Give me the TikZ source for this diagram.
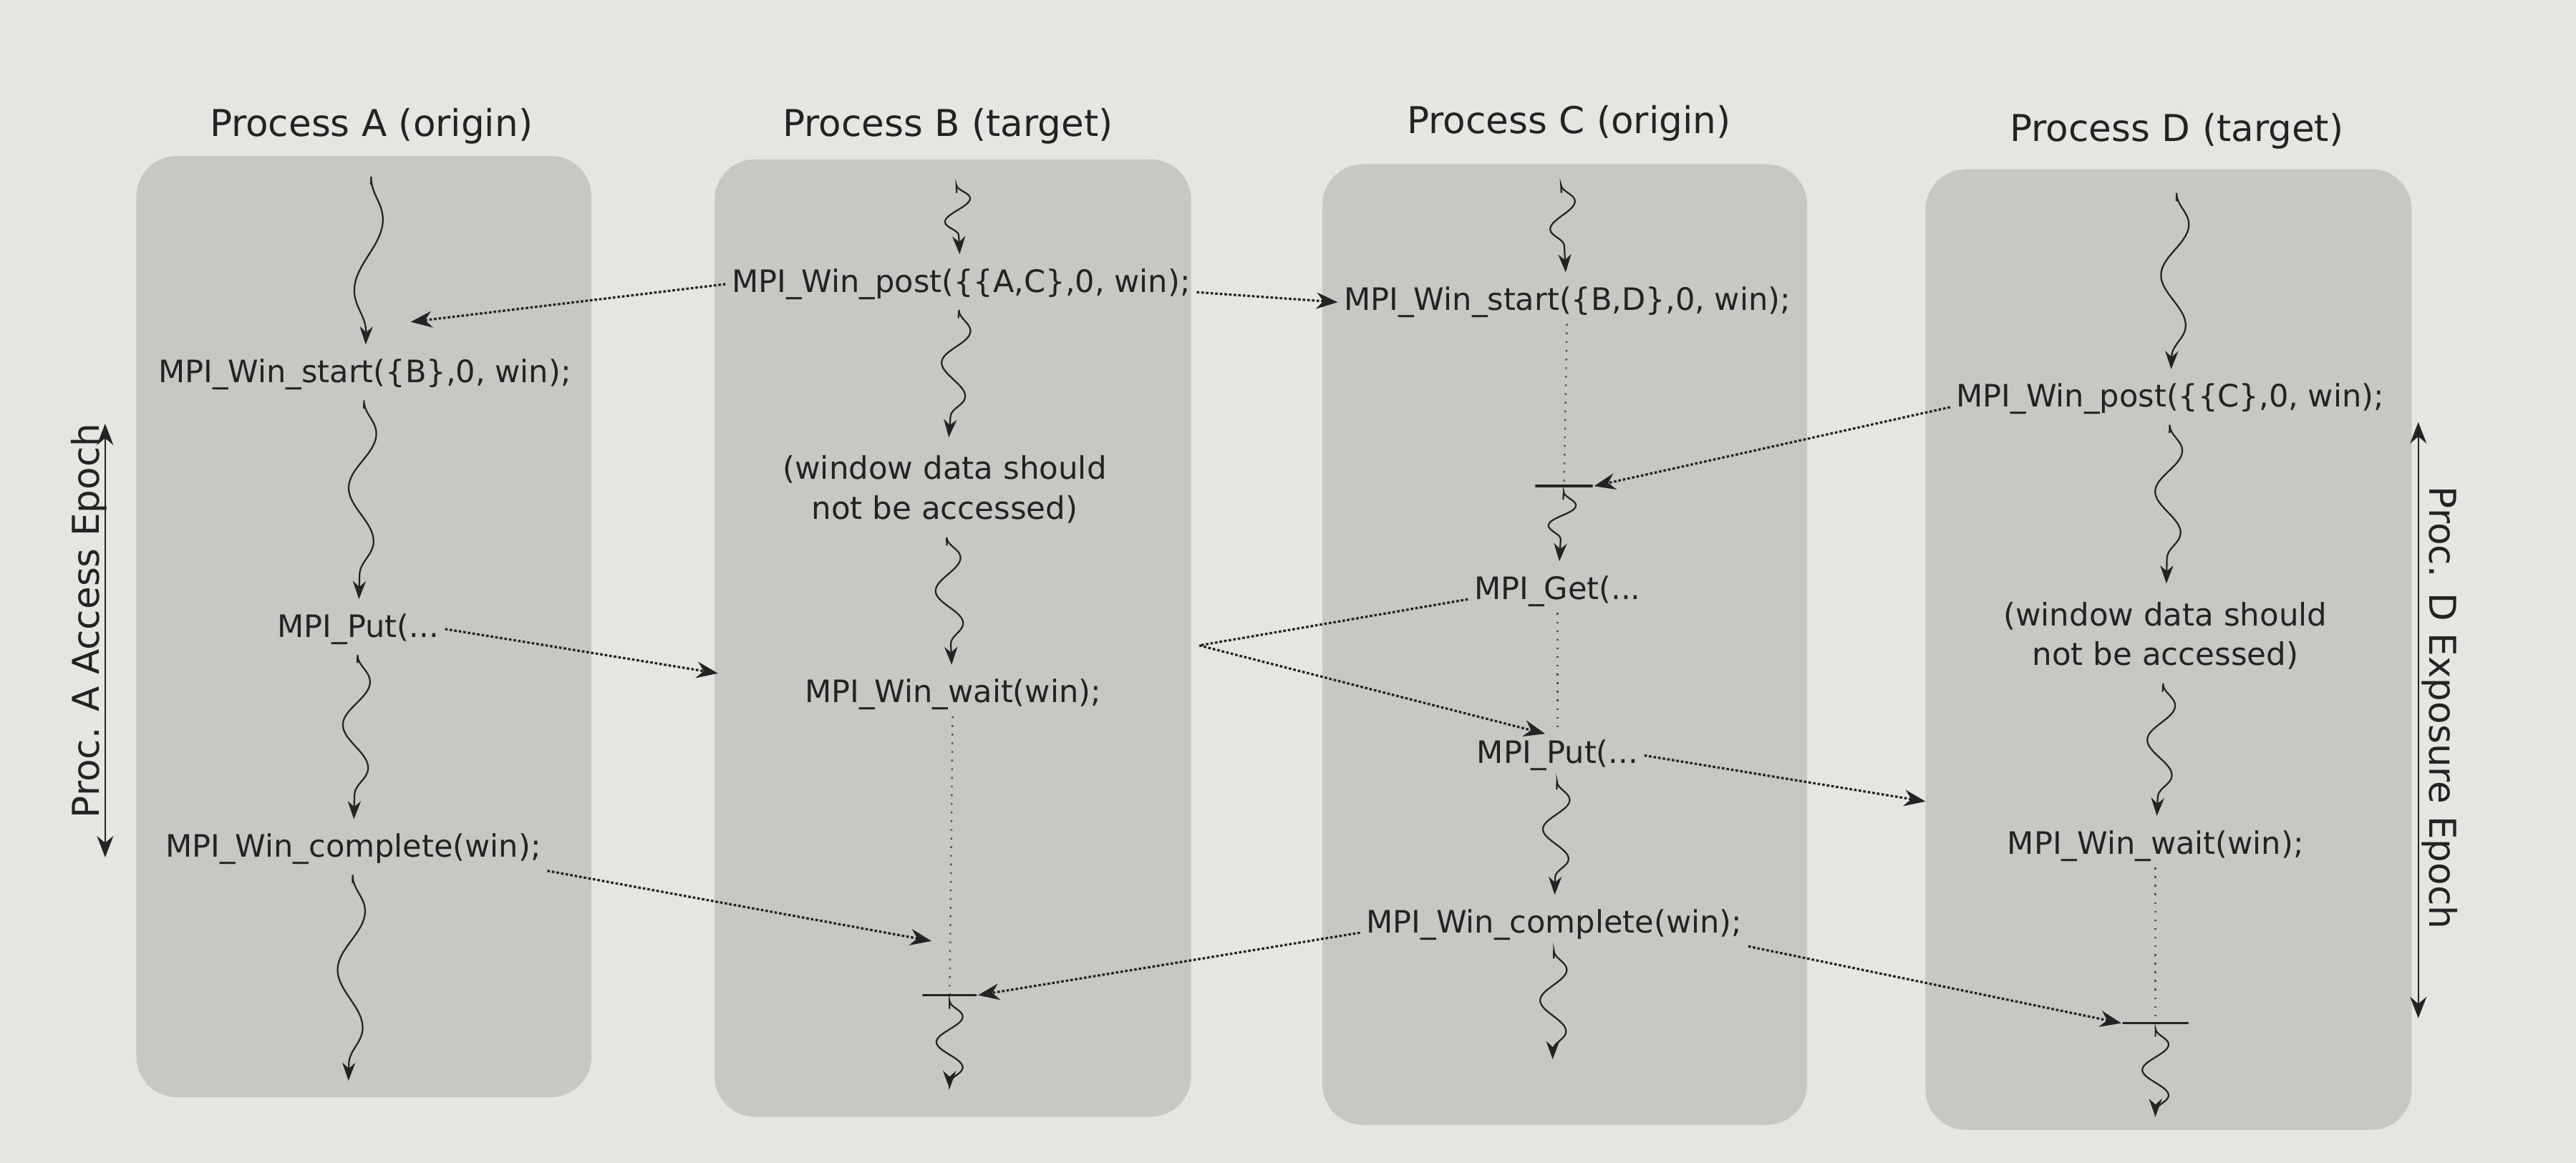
\documentclass[tikz,border=0pt]{standalone}
\usepackage{fontspec}
\setmainfont{DejaVu Sans}
\usetikzlibrary{arrows.meta,decorations.pathmorphing}

\definecolor{pagegray}{RGB}{229,229,226}
\definecolor{lanegray}{RGB}{199,199,196}
\definecolor{ink}{RGB}{35,35,35}

\tikzset{
  title/.style={font=\fontsize{12.8}{15}\selectfont, text=ink},
  call/.style={font=\fontsize{10.7}{13}\selectfont, text=ink, inner sep=2pt},
  note/.style={font=\fontsize{10.8}{13.7}\selectfont, text=ink, align=center},
  wavy/.style={draw=ink, line width=.55pt, -{Stealth[length=2.2mm,width=1.6mm]},
    shorten <=1.5mm, shorten >=1mm, decorate,
    decoration={snake, amplitude=.16cm, segment length=#1, pre length=.5mm, post length=1.5mm}},
  msg/.style={draw=ink, line width=.8pt, dash pattern=on .9pt off .7pt, -{Stealth[length=2.6mm,width=2mm]}},
  hold/.style={draw=ink!80, line width=.6pt, dash pattern=on .6pt off 2.4pt},
  blockbar/.style={draw=ink, line width=.9pt, inner sep=0pt, minimum height=0pt, minimum width=#1},
  epoch/.style={draw=ink, line width=.6pt, {Stealth[length=2.6mm,width=2mm]}-{Stealth[length=2.6mm,width=2mm]}}
}

\begin{document}
\begin{tikzpicture}
\useasboundingbox[fill=pagegray] (0,0) rectangle (31.36,-14.16);

\fill[lanegray,rounded corners=14pt] (1.66,-1.90) rectangle (7.20,-13.36);
\fill[lanegray,rounded corners=14pt] (8.70,-1.94) rectangle (14.50,-13.60);
\fill[lanegray,rounded corners=14pt] (16.10,-2.00) rectangle (22.00,-13.70);
\fill[lanegray,rounded corners=14pt] (23.44,-2.06) rectangle (29.36,-13.76);

\node[title] (tA) at (4.52,-1.54) {Process A (origin)};
\node[title] (tB) at (11.54,-1.54) {Process B (target)};
\node[title] (tC) at (19.10,-1.50) {Process C (origin)};
\node[title] (tD) at (26.50,-1.60) {Process D (target)};

\coordinate (a0) at (4.52,-2.10);
\node[call] (aStart) at (4.44,-4.56) {MPI\_Win\_start(\{B\},0, win);};
\node[call] (aPut) at (4.36,-7.66) {MPI\_Put(...};
\node[call] (aComp) at (4.30,-10.34) {MPI\_Win\_complete(win);};
\coordinate (a1) at (4.24,-13.26);
\draw[wavy=1.7cm] (a0) -- (aStart);
\draw[wavy=1.31cm] (aStart) -- (aPut);
\draw[wavy=1.05cm] (aPut) -- (aComp);
\draw[wavy=1.42cm] (aComp) -- (a1);

\coordinate (b0) at (11.64,-2.20);
\node[call] (bPost) at (11.70,-3.46) {MPI\_Win\_post(\{\{A,C\},0, win);};
\node[note] (bNote) at (11.50,-5.96) {(window data should\\not be accessed)};
\node[call] (bWait) at (11.60,-8.46) {MPI\_Win\_wait(win);};
\node[blockbar=.66cm] (bBar) at (11.56,-12.12) {};
\coordinate (b1) at (11.56,-13.36);
\draw[wavy=.55cm] (b0) -- (bPost);
\draw[wavy=.8cm] (bPost) -- (bNote);
\draw[wavy=.8cm] (bNote) -- (bWait);
\draw[hold] (bWait) -- (bBar);
\draw[wavy=.62cm] (bBar) -- (b1);

\coordinate (c0) at (19.00,-2.20);
\node[call] (cStart) at (19.08,-3.68) {MPI\_Win\_start(\{B,D\},0, win);};
\node[blockbar=.7cm] (cBar) at (19.04,-5.92) {};
\node[call] (cGet) at (18.96,-7.20) {MPI\_Get(...};
\node[call] (cPut) at (18.96,-9.20) {MPI\_Put(...};
\node[call] (cComp) at (18.92,-11.26) {MPI\_Win\_complete(win);};
\coordinate (c1) at (18.90,-13.00);
\draw[wavy=.66cm] (c0) -- (cStart);
\draw[hold] (cStart) -- (cBar);
\draw[wavy=.52cm] (cBar) -- (cGet);
\draw[hold] (cGet) -- (cPut);
\draw[wavy=.72cm] (cPut) -- (cComp);
\draw[wavy=.75cm] (cComp) -- (c1);

\coordinate (d0) at (26.50,-2.30);
\node[call] (dPost) at (26.42,-4.86) {MPI\_Win\_post(\{\{C\},0, win);};
\node[note] (dNote) at (26.36,-7.74) {(window data should\\not be accessed)};
\node[call] (dWait) at (26.24,-10.30) {MPI\_Win\_wait(win);};
\node[blockbar=.8cm] (dBar) at (26.24,-12.46) {};
\coordinate (d1) at (26.24,-13.70);
\draw[wavy=1.23cm] (d0) -- (dPost);
\draw[wavy=1cm] (dPost) -- (dNote);
\draw[wavy=.85cm] (dNote) -- (dWait);
\draw[hold] (dWait) -- (dBar);
\draw[wavy=.62cm] (dBar) -- (d1);

\coordinate (aIn) at (5.00,-3.92);
\coordinate (bIn1) at (8.74,-8.20);
\coordinate (bTurn) at (14.60,-7.86);
\coordinate (bIn2) at (11.34,-11.46);
\coordinate (dIn) at (23.44,-9.76);
\draw[msg] (bPost.west) -- (aIn);
\draw[msg] (bPost.base east) -- (cStart.west);
\draw[msg] (dPost.base west) -- (cBar.east);
\draw[msg] (aPut.east) -- (bIn1);
\draw[msg] (cGet.base west) -- (bTurn) -- ([xshift=-1.5mm]cPut.north);
\draw[msg] (cPut.east) -- (dIn);
\draw[msg] (aComp.south east) -- (bIn2);
\draw[msg] (cComp.base west) -- (bBar.east);
\draw[msg] (cComp.south east) -- (dBar.west);

\coordinate (accTop) at (1.28,-5.16);
\coordinate (accBot) at (1.28,-10.44);
\draw[epoch] (accBot) -- (accTop);
\node[title, rotate=90] (accLbl) at (1.08,-7.56) {Proc. A Access Epoch};
\coordinate (expTop) at (29.44,-5.14);
\coordinate (expBot) at (29.44,-12.40);
\draw[epoch] (expTop) -- (expBot);
\node[title, rotate=-90] (expLbl) at (29.70,-8.62) {Proc. D Exposure Epoch};
\end{tikzpicture}
\end{document}
